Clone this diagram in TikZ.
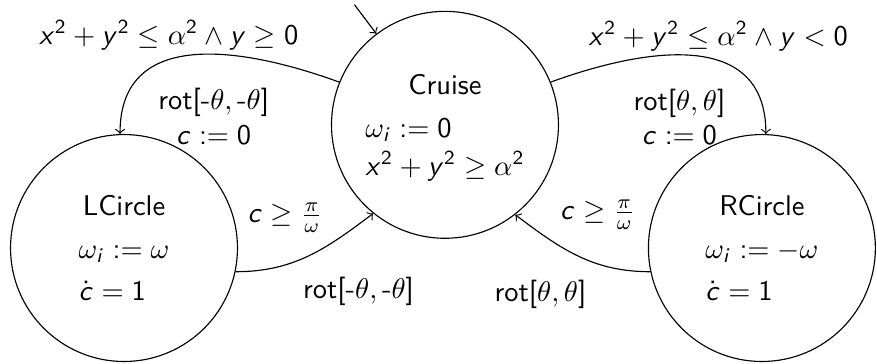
\documentclass[tikz,border=0pt]{standalone}
\usepackage{amsmath}
\usepackage{amssymb}
\usetikzlibrary{arrows, positioning}

% lettere sans serif in modo matematico
\DeclareSymbolFont{sfletters}{OT1}{cmss}{m}{sl}
\SetSymbolFont{operators}{normal}{OT1}{cmss}{m}{n}
\DeclareMathSymbol{c}{\mathalpha}{sfletters}{`c}
\DeclareMathSymbol{i}{\mathalpha}{sfletters}{`i}
\DeclareMathSymbol{x}{\mathalpha}{sfletters}{`x}
\DeclareMathSymbol{y}{\mathalpha}{sfletters}{`y}
\renewcommand{\arraystretch}{1.1}

\tikzset{
    location/.style={draw, circle, minimum size=2.8cm, inner sep=0pt, align=center, font=\sffamily},
    guard/.style={align=center, font=\sffamily},
    arrow/.style={->, >=to, thin}
}

\begin{document}
\begin{tikzpicture}[node distance=1.52cm and 3.94cm, on grid]
    \useasboundingbox (-5.49,-2.94) rectangle (5.33,1.54);

    % Locazioni
    \node (cruise) [location] {Cruise\\[3pt]%
        \begin{tabular}[t]{@{}l@{}}$\omega_i := 0$\\ $x^2+y^2 \geq \alpha^2$\\[-4pt]\end{tabular}};
    \node (lcircle) [location, below left=1.52cm and 3.96cm of cruise] {LCircle\\[3pt]%
        \begin{tabular}[t]{@{}l@{}}$\omega_i := \omega$\\[1.5pt] $\dot{c} = 1$\\[-4pt]\end{tabular}};
    \node (rcircle) [location, below right=1.52cm and 3.91cm of cruise] {RCircle\\[3pt]%
        \begin{tabular}[t]{@{}l@{}}$\omega_i := -\omega$\\[1.5pt] $\dot{c} = 1$\\[-4pt]\end{tabular}};

    % Stato iniziale
    \coordinate (init) at ([shift={(127:0.45cm)}]cruise.127);
    \draw [arrow] (init) -- (cruise);

    % Transizioni verso l'alto
    \draw [arrow] (cruise.158) to [out=160, in=90, looseness=1.2]
        node [pos=0.6, above, guard] {$x^2+y^2 \leq \alpha^2 \wedge y \geq 0$}
        node [pos=0.42, below=0.3cm, guard] {rot[-$\theta,\,$-$\theta$]\\ $c := 0$} (lcircle.92);
    \draw [arrow] (cruise.22) to [out=20, in=90, looseness=1.2]
        node [pos=0.6, above, guard] {$x^2+y^2 \leq \alpha^2 \wedge y < 0$}
        node [pos=0.44, below=0.3cm, guard] {rot[$\theta, \theta$]\\ $c := 0$} (rcircle.88);

    % Ritorno in crociera
    \draw [arrow] (lcircle.-12) to [out=0, in=217]
        node [pos=0.69, above left, guard] {$c \geq \frac{\pi}{\omega}$}
        node [pos=0.38, below right, yshift=-0.06cm, guard] {rot[-$\theta,\,$-$\theta$]} (cruise.231);
    \draw [arrow] (rcircle.192) to [out=180, in=-37]
        node [pos=0.73, above right, guard] {$c \geq \frac{\pi}{\omega}$}
        node [pos=0.36, below left, yshift=-0.08cm, guard] {rot[$\theta, \theta$]} (cruise.308);
\end{tikzpicture}
\end{document}
